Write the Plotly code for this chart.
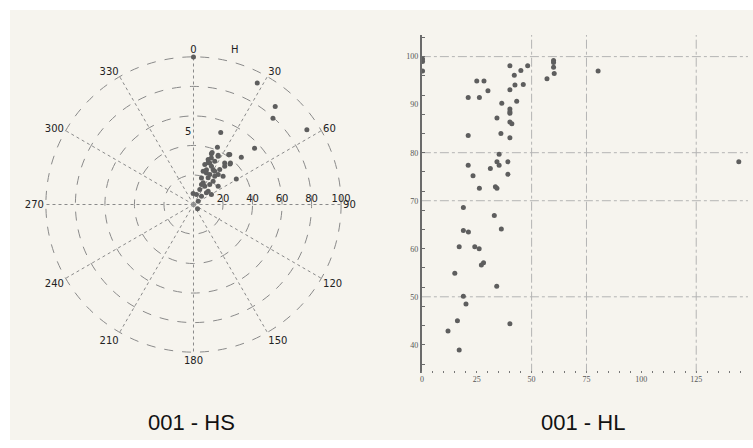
import plotly.graph_objects as go

W, H = 753, 448

# ---------------- data: polar chart "001 - HS" ----------------
hs_r = [92.9, 86.5, 79.4, 92.0, 52.2, 56.2, 45.5, 33.8, 41.8, 42.0, 36.5, 35.2, 37.0, 36.7,
        7.4, 37.3, 33.4, 28.1, 30.2, 27.1, 23.1, 26.3, 18.8, 20.6, 14.5, 11.0, 13.4, 7.8,
        3.9, 4.0, 17.4, 16.1, 20.6, 23.9, 23.4, 33.8, 32.0, 32.6, 41.4, 37.7, 100.0,
        29.9, 28.6, 25.2, 26.7, 29.6, 23.1, 27.7, 20.8, 11.8, 13.9, 7.1, 14.6, 37.5]
hs_theta = [27.7, 39.8, 42.7, 56.6, 20.7, 47.4, 45.4, 59.1, 36.0, 22.7, 19.4, 36.9, 42.0, 27.0,
            358.0, 26.6, 39.3, 15.8, 21.4, 29.4, 22.3, 39.5, 16.7, 40.2, 31.7, 22.8, 47.9, 44.0,
            55.0, 137.0, 39.2, 24.0, 28.8, 37.0, 16.2, 21.0, 18.1, 26.2, 35.2, 41.6, 0.0,
            19.4, 25.2, 20.4, 32.6, 36.9, 28.5, 46.4, 53.5, 48.0, 61.0, 16.7, 21.8, 19.7]
radial_ticks = [20, 40, 60, 80, 100]
angular_ticks = list(range(0, 360, 30))
angular_labels = [str(a) for a in angular_ticks]

# ---------------- data: scatter chart "001 - HL" ----------------
hl_x = [0.3, 0.3, 0.3, 40.1, 48.2, 45.1, 42.1, 60.0, 60.0, 60.0, 60.3, 57.0, 80.3, 25.0,
        28.3, 42.4, 46.2, 40.1, 30.1, 21.1, 26.2, 36.4, 43.2, 40.1, 40.1, 40.1, 34.2, 40.1,
        41.0, 21.1, 36.0, 40.1, 35.2, 21.1, 34.2, 35.2, 39.2, 31.2, 23.3, 39.2, 26.2, 33.5,
        34.2, 144.4, 18.9, 33.0, 36.2, 18.9, 21.2, 17.0, 24.1, 26.1, 28.1, 27.1, 15.0, 34.1,
        18.9, 20.1, 16.2, 11.9, 40.1, 17.0]
hl_y = [99.5, 99.0, 97.0, 98.1, 98.1, 97.1, 96.1, 99.2, 98.8, 97.8, 96.5, 95.4, 97.0, 94.9,
        94.9, 94.1, 94.2, 93.1, 92.9, 91.5, 91.5, 90.3, 90.7, 89.1, 88.2, 88.5, 87.2, 86.4,
        86.0, 83.6, 84.0, 83.1, 79.7, 77.4, 78.1, 77.4, 78.1, 76.7, 75.2, 75.5, 72.6, 72.9,
        72.6, 78.1, 68.6, 66.9, 64.1, 63.8, 63.5, 60.4, 60.4, 60.0, 57.1, 56.6, 54.9, 52.2,
        50.1, 48.5, 45.0, 42.9, 44.4, 38.9]
x_ticks = [0, 25, 50, 75, 100, 125]
y_ticks = [40, 50, 60, 70, 80, 90, 100]
x_grid = [50, 75, 125]
y_grid = [100, 80, 70, 50]

titles = ["001 - HS", "001 - HL"]

BEIGE = "#f6f4ee"
PT = "#5e5e5e"
GRID = "#8a8a8a"

fig = go.Figure()

fig.add_trace(go.Scatterpolar(
    r=hs_r, theta=hs_theta, mode="markers",
    marker=dict(size=5, color=PT), showlegend=False, subplot="polar"))

fig.add_trace(go.Scatter(
    x=hl_x, y=hl_y, mode="markers",
    marker=dict(size=5, color=PT), showlegend=False, xaxis="x", yaxis="y"))

shapes = [dict(type="rect", xref="paper", yref="paper",
               x0=8 / W, x1=1, y0=1 - 440 / H, y1=1 - 10 / H,
               fillcolor=BEIGE, line=dict(width=0), layer="below")]
for gx in x_grid:
    shapes.append(dict(type="line", xref="x", yref="y domain", x0=gx, x1=gx, y0=0, y1=1,
                       line=dict(color="#b4b4b4", width=1, dash="dashdot"), layer="below"))
for gy in y_grid:
    shapes.append(dict(type="line", xref="x domain", yref="y", x0=0, x1=1, y0=gy, y1=gy,
                       line=dict(color="#b4b4b4", width=1, dash="dashdot"), layer="below"))

TITLE_FONT = dict(family="Liberation Sans Narrow, Arial Narrow, Liberation Sans, sans-serif",
                  size=22, color="#111")
annotations = [
    dict(text=titles[0], x=190 / W, y=1 - 422 / H, xref="paper", yref="paper",
         showarrow=False, xanchor="center", yanchor="middle", font=TITLE_FONT),
    dict(text=titles[1], x=583 / W, y=1 - 422 / H, xref="paper", yref="paper",
         showarrow=False, xanchor="center", yanchor="middle", font=TITLE_FONT),
    dict(text="H", x=234 / W, y=1 - 49 / H, xref="paper", yref="paper", showarrow=False,
         xanchor="center", yanchor="middle",
         font=dict(family="DejaVu Sans", size=10, color="#222")),
    dict(text="5", x=186 / W, y=1 - 131 / H, xref="paper", yref="paper", showarrow=False,
         xanchor="center", yanchor="middle",
         font=dict(family="DejaVu Sans", size=10, color="#222")),
]

# polar: centre (192, 204.5), r=100 ring at 148 px; range end slightly beyond 100
R_MAX = 101.0
rad_px = 148 * R_MAX / 100
cx, cy = 192, 204.5

fig.update_layout(
    width=W, height=H,
    margin=dict(l=0, r=0, t=0, b=0, pad=0),
    paper_bgcolor="white",
    plot_bgcolor="rgba(0,0,0,0)",
    showlegend=False,
    shapes=shapes,
    annotations=annotations,
    polar=dict(
        domain=dict(x=[(cx - rad_px) / W, (cx + rad_px) / W],
                    y=[1 - (cy + rad_px) / H, 1 - (cy - rad_px) / H]),
        bgcolor="rgba(0,0,0,0)",
        radialaxis=dict(range=[0, R_MAX], tickmode="array", tickvals=radial_ticks,
                        angle=0, tickangle=0, side="counterclockwise",
                        showline=False, ticks="", gridcolor=GRID, griddash="dash",
                        gridwidth=1,
                        tickfont=dict(family="DejaVu Sans", size=10, color="#222")),
        angularaxis=dict(direction="clockwise", rotation=90, tickmode="array",
                         tickvals=angular_ticks, ticktext=angular_labels,
                         showline=False, ticks="", gridcolor=GRID, griddash="dot",
                         gridwidth=1,
                         tickfont=dict(family="DejaVu Sans", size=10, color="#222")),
    ),
    xaxis=dict(domain=[421 / W, 748 / W], range=[0, 148.6], tickmode="array",
               tickvals=x_ticks, showgrid=False, zeroline=False, showline=False,
               mirror="allticks",
               ticks="", tickfont=dict(family="Liberation Serif", size=8, color="#555"),
               minor=dict(ticks="inside", ticklen=2, tickcolor="#777", dtick=5, tick0=0,
                          showgrid=False)),
    yaxis=dict(domain=[1 - 372.7 / H, 1 - 35 / H], range=[34.2, 104.5], tickmode="array",
               tickvals=y_ticks, showgrid=False, zeroline=False, showline=True,
               linecolor="#6a6a6a", linewidth=2, ticks="",
               tickfont=dict(family="Liberation Serif", size=8, color="#555"),
               minor=dict(ticks="inside", ticklen=3, tickcolor="#6a6a6a", dtick=4, tick0=0,
                          showgrid=False)),
)

fig.write_html("out.html", config={"displayModeBar": False},
               post_script="document.body.style.margin='0';")
